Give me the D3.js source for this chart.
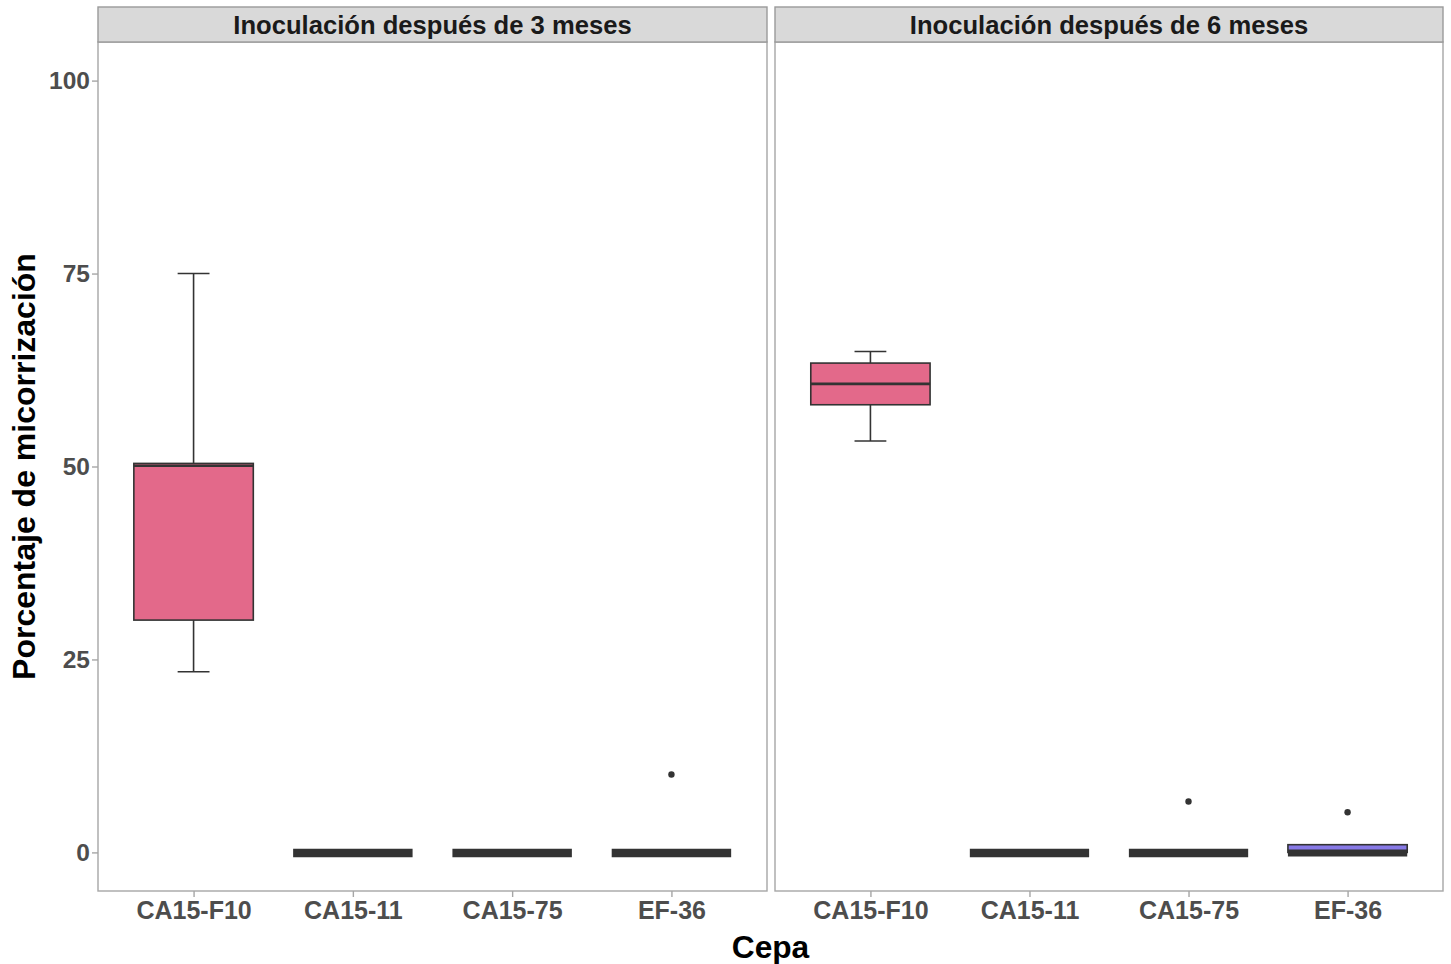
<!DOCTYPE html>
<html>
<head>
<meta charset="utf-8">
<script src="https://cdn.jsdelivr.net/npm/d3@7"></script>
<style>
  body { margin: 0; background: #fff; }
  text { font-family: "Liberation Sans", Arial, sans-serif; font-weight: bold; }
</style>
</head>
<body>
<svg id="chart"></svg>
<script>
// data
let panels = ["Inoculación después de 3 meses", "Inoculación después de 6 meses"];
let cepas = ["CA15-F10", "CA15-11", "CA15-75", "EF-36"];
let fills = ["#E3698A", "#E3698A", "#E3698A", "#8779E6"];
let yTicks = [0, 25, 50, 75, 100];

// per panel, per cepa: [lowerWhisker, q1, median, q3, upperWhisker]
let stats3 = [[23.4, 30.1, 50.1, 50.4, 75], [0, 0, 0, 0, 0], [0, 0, 0, 0, 0], [0, 0, 0, 0, 0]];
let stats6 = [[53.3, 58.0, 60.7, 63.4, 64.9], [0, 0, 0, 0, 0], [0, 0, 0, 0, 0], [0, 0, 0, 1.0, 1.0]];
let outliers3 = [[], [], [], [10.1]];
let outliers6 = [[], [], [6.6], [5.2]];

let svgWidth = 1451, svgHeight = 964;
let panelX = [[98, 767], [775, 1443]];
let panelTop = 42, panelBottom = 891, stripTop = 7;

let svg = d3.select("#chart").attr("width", svgWidth).attr("height", svgHeight);

let y = d3.scaleLinear().domain([-5, 105]).range([panelBottom, panelTop]);

let drawPanel = function(i, stats, outs) {
    // ggplot discrete expansion: 0.6 units each side
    let unit = (panelX[i][1] - panelX[i][0]) / 4.2;
    let xs = d3.scalePoint().domain(cepas)
        .range([panelX[i][0] + 0.6 * unit, panelX[i][0] + 3.6 * unit]);
    let g = svg.append("g");

    g.append("rect").attr("x", panelX[i][0]).attr("y", panelTop)
        .attr("width", panelX[i][1] - panelX[i][0]).attr("height", panelBottom - panelTop)
        .attr("fill", "#fff");

    let data = cepas.map((c, k) => ({c: c, s: stats[k], o: outs[k], fill: fills[k]}));
    let boxW = unit * 0.75, capW = unit * 0.2;
    let flat = d => d.s[3] - d.s[1] < 2;

    let box = g.selectAll("g.box").data(data).enter().append("g").attr("class", "box");
    box.append("line")
        .attr("x1", d => xs(d.c)).attr("x2", d => xs(d.c))
        .attr("y1", d => y(d.s[3])).attr("y2", d => y(d.s[4]))
        .attr("stroke", "#333").attr("stroke-width", 1.6);
    box.append("line")
        .attr("x1", d => xs(d.c)).attr("x2", d => xs(d.c))
        .attr("y1", d => y(d.s[1])).attr("y2", d => y(d.s[0]))
        .attr("stroke", "#333").attr("stroke-width", 1.6);
    box.filter(d => d.s[4] > d.s[3]).append("line")
        .attr("x1", d => xs(d.c) - capW / 2).attr("x2", d => xs(d.c) + capW / 2)
        .attr("y1", d => y(d.s[4])).attr("y2", d => y(d.s[4]))
        .attr("stroke", "#333").attr("stroke-width", 1.6);
    box.filter(d => d.s[0] < d.s[1]).append("line")
        .attr("x1", d => xs(d.c) - capW / 2).attr("x2", d => xs(d.c) + capW / 2)
        .attr("y1", d => y(d.s[0])).attr("y2", d => y(d.s[0]))
        .attr("stroke", "#333").attr("stroke-width", 1.6);
    box.append("rect")
        .attr("x", d => xs(d.c) - boxW / 2).attr("width", boxW)
        .attr("y", d => y(d.s[3])).attr("height", d => y(d.s[1]) - y(d.s[3]))
        .attr("fill", d => d.fill).attr("stroke", "#333").attr("stroke-width", 1.6);
    box.append("line")
        .attr("x1", d => xs(d.c) - boxW / 2).attr("x2", d => xs(d.c) + boxW / 2)
        .attr("y1", d => y(d.s[2]) + (flat(d) ? 0.5 : 0))
        .attr("y2", d => y(d.s[2]) + (flat(d) ? 0.5 : 0))
        .attr("stroke", "#333")
        .attr("stroke-width", d => flat(d) ? (d.s[3] > d.s[1] ? 7 : 8.5) : 2.6);
    box.selectAll("circle").data(d => d.o.map(v => ({c: d.c, v: v}))).enter()
        .append("circle")
        .attr("cx", d => xs(d.c)).attr("cy", d => y(d.v)).attr("r", 3.2)
        .attr("fill", "#333");

    // panel border
    g.append("rect").attr("x", panelX[i][0]).attr("y", panelTop)
        .attr("width", panelX[i][1] - panelX[i][0]).attr("height", panelBottom - panelTop)
        .attr("fill", "none").attr("stroke", "#a6a6a6").attr("stroke-width", 1.4);

    // strip
    g.append("rect").attr("x", panelX[i][0]).attr("y", stripTop)
        .attr("width", panelX[i][1] - panelX[i][0]).attr("height", panelTop - stripTop)
        .attr("fill", "#d9d9d9").attr("stroke", "#9a9a9a").attr("stroke-width", 1.4);
    g.append("text").attr("x", (panelX[i][0] + panelX[i][1]) / 2).attr("y", (stripTop + panelTop) / 2)
        .attr("dy", "0.36em").attr("text-anchor", "middle")
        .attr("font-size", 25.6).attr("fill", "#1a1a1a").text(panels[i]);

    // x axis
    let ax = g.append("g").attr("transform", "translate(0," + panelBottom + ")")
        .call(d3.axisBottom(xs).tickSize(6).tickPadding(4));
    ax.select(".domain").remove();
    ax.selectAll(".tick line").attr("stroke", "#a6a6a6").attr("stroke-width", 1.4);
    ax.selectAll(".tick text").attr("font-size", 25).attr("fill", "#4d4d4d")
        .style("font-family", "'Liberation Sans', Arial, sans-serif");
};

drawPanel(0, stats3, outliers3);
drawPanel(1, stats6, outliers6);

// y axis
let ay = svg.append("g").attr("transform", "translate(" + panelX[0][0] + ",0)")
    .call(d3.axisLeft(y).tickValues(yTicks).tickSize(6).tickPadding(2));
ay.select(".domain").remove();
ay.selectAll(".tick line").attr("stroke", "#a6a6a6").attr("stroke-width", 1.4);
ay.selectAll(".tick text").attr("font-size", 24.5).attr("fill", "#4d4d4d")
    .style("font-family", "'Liberation Sans', Arial, sans-serif");

// titles
svg.append("text").attr("x", (panelX[0][0] + panelX[1][1]) / 2).attr("y", 958)
    .attr("text-anchor", "middle").attr("font-size", 31.7).attr("fill", "#000").text("Cepa");
svg.append("text").attr("transform", "translate(35," + ((panelTop + panelBottom) / 2) + ") rotate(-90)")
    .attr("text-anchor", "middle").attr("font-size", 32).attr("fill", "#000")
    .text("Porcentaje de micorrización");
</script>
</body>
</html>
